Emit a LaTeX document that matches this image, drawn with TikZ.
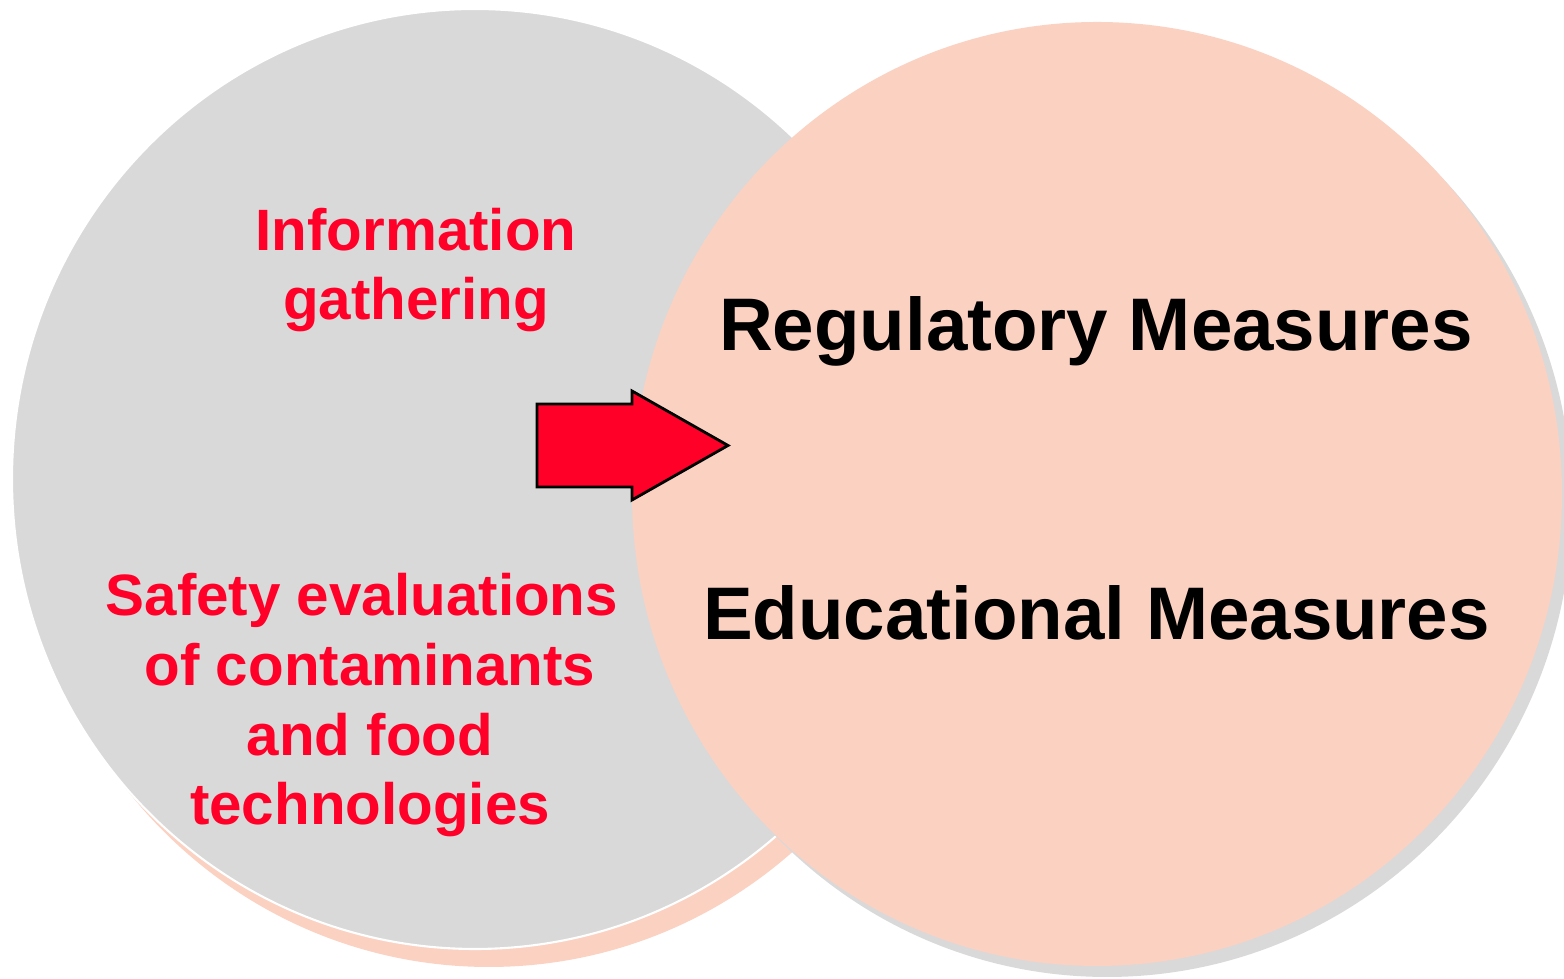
\documentclass[tikz,border=0pt]{standalone}
\usepackage{fontspec}
\setmainfont{Liberation Sans}
\usepackage{xcolor}
\usepackage{tikz}
\usetikzlibrary{shapes.geometric,positioning}
\definecolor{softgray}{HTML}{D9D9D9}
\definecolor{softpink}{HTML}{FBD1C2}
\definecolor{alertred}{HTML}{FF0029}
\tikzstyle{disc}=[ellipse, inner sep=0pt, outer sep=0pt]
\tikzstyle{red-label}=[text=alertred, align=center, inner sep=0pt, font=\bfseries\fontsize{16.6}{19.9}\selectfont]
\tikzstyle{black-label}=[text=black, inner sep=0pt, font=\bfseries\fontsize{21.2}{25}\selectfont]

\begin{document}
\begin{tikzpicture}
	\useasboundingbox (0,0) rectangle (15.64,9.79);

	% left circle with its pink shadow
	\node[disc, fill=softpink, minimum width=9.26cm, minimum height=9.40cm] (left-shadow) at (4.89,4.82) {};
	\node[disc, fill=softgray, draw=white, line width=0.6pt, minimum width=9.26cm, minimum height=9.40cm] (science) at (4.75,5.00) {};

	% right circle with its gray shadow
	\node[disc, fill=softgray, minimum width=9.30cm, minimum height=9.44cm] (right-shadow) at (11.07,4.74) {};
	\node[disc, fill=softpink, minimum width=9.30cm, minimum height=9.44cm] (measures) at (10.97,4.85) {};

	\node[red-label, anchor=base] (gathering) at (4.16,6.59) {Information\\gathering};
	\node[red-label, anchor=base] (evaluations) at (3.70,1.54) {Safety evaluations\kern.278em\\of contaminants\\and food\\technologies};

	\node[black-label, anchor=base] (regulatory) at (10.96,6.28) {Regulatory Measures};
	\node[black-label, anchor=base] (educational) at (10.965,3.39) {Educational Measures};

	\coordinate (tail) at (5.37,5.335);
	\draw[fill=alertred, line width=0.8pt, line join=miter]
		(tail) ++(0,0.415) -- ++(0.95,0) -- ++(0,0.13) -- ++(0.96,-0.545)
		-- ++(-0.96,-0.545) -- ++(0,0.13) -- ++(-0.95,0) -- cycle;
\end{tikzpicture}
\end{document}
